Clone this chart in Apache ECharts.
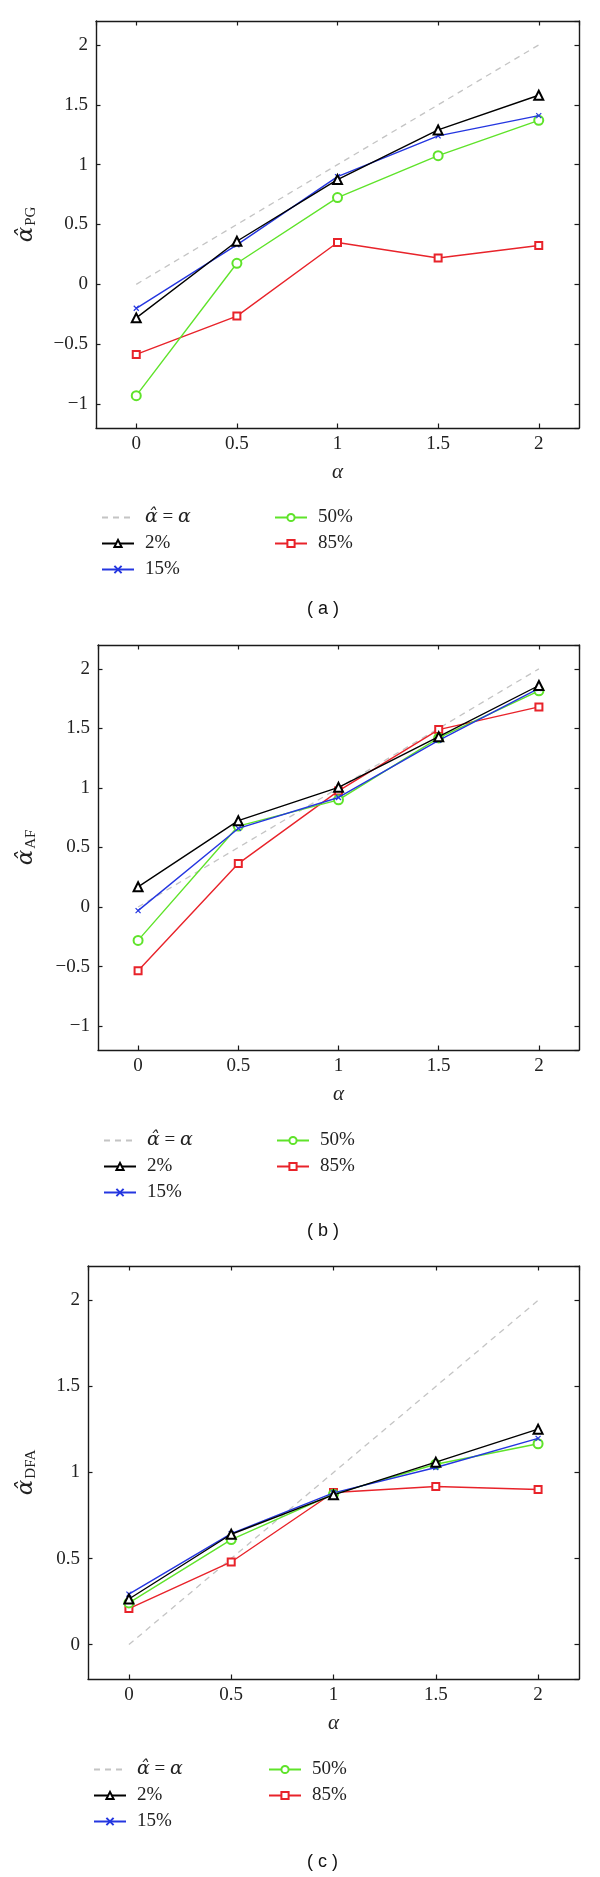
<!DOCTYPE html>
<html>
<head>
<meta charset="utf-8">
<script src="https://cdn.jsdelivr.net/npm/echarts@6/dist/echarts.min.js"></script>
<style>
  html, body {margin: 0; padding: 0; background: #fff;}
  #main {width: 600px; height: 1877px;}
</style>
</head>
<body>
<div id="main"></div>
<script>
// x values and tick labels
const alphas = [0, 0.5, 1, 1.5, 2];
const identity = [0, 0.5, 1, 1.5, 2];
const xTicks = [0, 0.5, 1, 1.5, 2];
const yTicksWide = [-1, -0.5, 0, 0.5, 1, 1.5, 2];
const yTicksDfa = [0, 0.5, 1, 1.5, 2];
const names = ['α̂ = α', '2%', '15%', '50%', '85%'];

// (a) PG estimator
const pg2 = [-0.28, 0.36, 0.875, 1.29, 1.58];
const pg15 = [-0.2, 0.33, 0.9, 1.24, 1.41];
const pg50 = [-0.93, 0.176, 0.725, 1.075, 1.37];
const pg85 = [-0.585, -0.265, 0.35, 0.22, 0.325];

// (b) AF estimator
const af2 = [0.17, 0.725, 1.005, 1.43, 1.86];
const af15 = [-0.03, 0.66, 0.92, 1.4, 1.835];
const af50 = [-0.28, 0.68, 0.9, 1.42, 1.815];
const af85 = [-0.535, 0.365, 0.975, 1.49, 1.68];

// (c) DFA estimator
const dfa2 = [0.265, 0.641, 0.87, 1.06, 1.252];
const dfa15 = [0.293, 0.645, 0.882, 1.029, 1.198];
const dfa50 = [0.242, 0.61, 0.874, 1.048, 1.167];
const dfa85 = [0.209, 0.48, 0.884, 0.919, 0.901];

const serif = 'Liberation Serif';
const hatFont = 'DejaVu Serif';
const axisColor = '#1a1a1a';
// only the listed tick values get a label; true minus sign for negatives
const tickText = list => v => {
    const hit = list.find(t => Math.abs(t - v) < 1e-6);
    if (hit === undefined) return '';
    return hit < 0 ? '\u2212' + Math.abs(hit) : String(hit);
};

const styles = [
    {color: '#c4c4c4', symbol: 'none', dash: [6, 5]},
    {color: '#000000', symbol: 'emptyTriangle', size: 9},
    {color: '#2436e0', symbol: 'path://M0,0L10,10M10,0L0,10', size: 5},
    {color: '#5fe32a', symbol: 'emptyCircle', size: 9},
    {color: '#e8232a', symbol: 'emptyRect', size: 7},
];

const panels = [
    {grid: {left: 96, top: 21, width: 483, height: 407}, yMin: -1.2, yTicks: yTicksWide,
        sub: 'PG', nameGap: 57, data: [identity, pg2, pg15, pg50, pg85],
        legendTop: 503, col1: 96, col2: 269, tag: '( a )', tagY: 610},
    {grid: {left: 98, top: 645, width: 481, height: 405}, yMin: -1.2, yTicks: yTicksWide,
        sub: 'AF', nameGap: 59, data: [identity, af2, af15, af50, af85],
        legendTop: 1126, col1: 98, col2: 271, tag: '( b )', tagY: 1232},
    {grid: {left: 88, top: 1266, width: 491, height: 413}, yMin: -0.2, yTicks: yTicksDfa,
        sub: 'DFA', nameGap: 49, data: [identity, dfa2, dfa15, dfa50, dfa85],
        legendTop: 1755, col1: 88, col2: 263, tag: '( c )', tagY: 1863},
];

const grid = [], xAxis = [], yAxis = [], series = [], legend = [], graphic = [];

panels.forEach((p, k) => {
    grid.push(p.grid);
    const tick = {show: true, inside: true, length: 4.5, lineStyle: {color: axisColor, width: 1.2}};
    const line = {show: true, onZero: false, lineStyle: {color: axisColor, width: 1.4}};
    const label = list => ({
        show: true, formatter: tickText(list), fontFamily: serif, fontSize: 19, color: '#222',
        showMinLabel: false, showMaxLabel: false
    });
    const xa = {type: 'value', gridIndex: k, min: -0.2, max: 2.2, splitNumber: 5,
        splitLine: {show: false}, axisLine: line, axisTick: tick};
    xAxis.push(Object.assign({}, xa, {
        position: 'bottom',
        axisLabel: Object.assign(label(xTicks), {margin: 7}),
        name: 'α', nameLocation: 'middle', nameGap: 34,
        nameTextStyle: {fontFamily: serif, fontStyle: 'italic', fontSize: 21, color: '#222'}
    }));
    xAxis.push(Object.assign({}, xa, {position: 'top', axisLabel: {show: false}}));
    const ya = {type: 'value', gridIndex: k, min: p.yMin, max: 2.2, splitNumber: p.yTicks.length - 1,
        splitLine: {show: false}, axisLine: line, axisTick: tick};
    yAxis.push(Object.assign({}, ya, {
        position: 'left',
        axisLabel: Object.assign(label(p.yTicks), {margin: 8}),
        name: '{a|α̂}{s|' + p.sub + '}', nameLocation: 'middle', nameRotate: 90, nameGap: p.nameGap,
        nameTextStyle: {
            rich: {
                a: {fontFamily: hatFont, fontStyle: 'italic', fontSize: 23, color: '#222'},
                s: {fontFamily: serif, fontSize: 15, color: '#222', padding: [11, 0, 0, 1]}
            }
        }
    }));
    yAxis.push(Object.assign({}, ya, {position: 'right', axisLabel: {show: false}}));

    p.data.forEach((vals, i) => {
        const s = styles[i];
        series.push({
            name: names[i], type: 'line', xAxisIndex: 2 * k, yAxisIndex: 2 * k,
            data: alphas.map((a, j) => [a, vals[j]]),
            symbol: s.symbol, symbolSize: s.size || 0, showSymbol: s.symbol !== 'none',
            lineStyle: {color: s.color, width: i === 0 ? 1.3 : 1.4, type: s.dash || 'solid'},
            itemStyle: {color: s.color, borderColor: s.color, borderWidth: 1.2},
            z: i === 0 ? 1 : 2 + (4 - i),
            animation: false
        });
    });

    const leg = (data, left) => ({
        data: data, left: left, top: p.legendTop, orient: 'vertical',
        itemWidth: 32, itemHeight: 9, itemGap: 7,
        formatter: n => (n === names[0] ? '{i|α̂}{e| = }{i|α}' : n),
        textStyle: {
            fontFamily: serif, fontSize: 19, color: '#222', lineHeight: 18, padding: [0, 0, 0, 6],
            rich: {
                i: {fontFamily: hatFont, fontStyle: 'italic', fontSize: 19, color: '#222'},
                e: {fontFamily: serif, fontSize: 19, color: '#222'}
            }
        }
    });
    legend.push(leg([{name: names[0], itemStyle: {opacity: 0}}, names[1], names[2]], p.col1));
    legend.push(leg(names.slice(3), p.col2));

    graphic.push({
        type: 'text', left: 324 - 17, top: p.tagY - 10,
        style: {text: p.tag, fontFamily: 'Liberation Sans', fontSize: 18, fill: '#111'}
    });
});

const chart = echarts.init(document.getElementById('main'));
chart.setOption({
    animation: false,
    grid: grid,
    xAxis: xAxis,
    yAxis: yAxis,
    legend: legend,
    graphic: graphic,
    series: series
});
</script>
</body>
</html>
